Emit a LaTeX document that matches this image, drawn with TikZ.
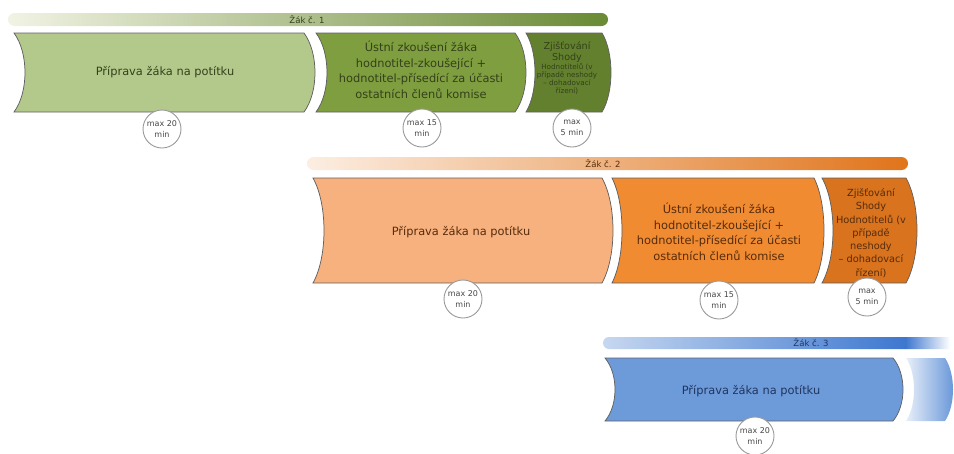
\documentclass[tikz,border=0pt]{standalone}
\usepackage{fontspec}
\setmainfont{DejaVu Sans}

% step tile: straight top and bottom, both sides bowed to the right
% #1 style, #2 left x, #3 right x, #4 top y, #5 bottom y, #6 bulge
\newcommand\tileshape[6]{%
  \path[#1] (#2,#4) -- (#3,#4)
    .. controls ({#3+#6*4/3},{#4+(#5-#4)/4}) and ({#3+#6*4/3},{#5-(#5-#4)/4}) .. (#3,#5)
    -- (#2,#5)
    .. controls ({#2+#6*4/3},{#5-(#5-#4)/4}) and ({#2+#6*4/3},{#4+(#5-#4)/4}) .. (#2,#4) -- cycle;}

\definecolor{gA}{HTML}{B3C98C}
\definecolor{gB}{HTML}{7F9E40}
\definecolor{gC}{HTML}{62802E}
\definecolor{gBar}{HTML}{6A8A34}
\definecolor{gBarL}{HTML}{F1F3E4}
\definecolor{gTxt}{HTML}{34411A}
\definecolor{oA}{HTML}{F7B17E}
\definecolor{oB}{HTML}{F08B32}
\definecolor{oC}{HTML}{D9731E}
\definecolor{oBar}{HTML}{E0741A}
\definecolor{oBarL}{HTML}{FCEEE2}
\definecolor{oTxt}{HTML}{562C0C}
\definecolor{bA}{HTML}{6D9BDA}
\definecolor{bBar}{HTML}{3D77CF}
\definecolor{bBarL}{HTML}{C6D7F0}
\definecolor{bPale}{HTML}{E8EFF9}
\definecolor{bTxt}{HTML}{1F355F}

\begin{document}
\begin{tikzpicture}[x=1pt,y=-1pt,
  tile/.style={draw=black!62, line width=0.75pt},
  main/.style={align=center, font=\fontsize{11.4}{15.5}\selectfont, inner sep=0pt},
  side/.style={align=center, font=\fontsize{9.8}{13.3}\selectfont, inner sep=0pt},
  sidehead/.style={align=center, font=\fontsize{9.6}{10.5}\selectfont, inner sep=0pt},
  sidesmall/.style={align=center, font=\fontsize{7.2}{8.2}\selectfont, inner sep=0pt},
  barlabel/.style={font=\fontsize{8.5}{10}\selectfont, inner sep=0pt},
  timer/.style={circle, draw=black!40, line width=0.9pt, fill=white,
    minimum size=38pt, inner sep=0pt, align=center,
    font=\fontsize{8}{10.5}\selectfont, text=black!72}]
\useasboundingbox (0,0) rectangle (954,453);
\clip (0,0) rectangle (954,453);

% ---------- Žák č. 1 ----------
\shade[rounded corners=6.5pt, left color=gBarL, right color=gBar]
  (8,13) rectangle (608,26);
\node[barlabel, text=gTxt] (bar1) at (307,19.5) {Žák č. 1};

\tileshape{tile, fill=gA}{14}{304}{33}{112}{11}
\tileshape{tile, fill=gB}{316}{515}{33}{112}{11}
\tileshape{tile, fill=gC}{526}{602}{33}{112}{9}

\node[main, text=gTxt] (p1) at (165,72) {Příprava žáka na potítku};
\node[main, text=gTxt] (u1) at (421,70)
  {Ústní zkoušení žáka\\hodnotitel-zkoušející +\\hodnotitel-přísedící za účasti\\ostatních členů komise};
\node[sidehead, text=gTxt] (z1) at (567,52) {Zjišťování\\Shody};
\node[sidesmall, text=gTxt] (h1) at (567,79)
  {Hodnotitelů (v\\případě neshody\\– dohadovací\\řízení)};

\node[timer] (t1a) at (162,129) {max 20\\min};
\node[timer] (t1b) at (422,128) {max 15\\min};
\node[timer] (t1c) at (572,128) {max\\5 min};

% ---------- Žák č. 2 ----------
\shade[rounded corners=6.5pt, left color=oBarL, right color=oBar]
  (307,157) rectangle (908,170);
\node[barlabel, text=oTxt] (bar2) at (603,163.5) {Žák č. 2};

\tileshape{tile, fill=oA}{313}{602}{178}{283}{11}
\tileshape{tile, fill=oB}{612}{814}{178}{283}{10}
\tileshape{tile, fill=oC}{822}{906}{178}{283}{11}

\node[main, text=oTxt] (p2) at (461,232) {Příprava žáka na potítku};
\node[main, text=oTxt] (u2) at (719,232)
  {Ústní zkoušení žáka\\hodnotitel-zkoušející +\\hodnotitel-přísedící za účasti\\ostatních členů komise};
\node[side, text=oTxt] (z2) at (871,233)
  {Zjišťování\\Shody\\Hodnotitelů (v\\případě\\neshody\\– dohadovací\\řízení)};

\node[timer] (t2a) at (463,299) {max 20\\min};
\node[timer] (t2b) at (719,300) {max 15\\min};
\node[timer] (t2c) at (867,297) {max\\5 min};

% ---------- Žák č. 3 ----------
\begin{scope}
  \clip[rounded corners=6pt] (603,337) rectangle (1010,349);
  \shade[left color=bBarL, right color=bBar] (603,337) rectangle (906,349);
  \shade[left color=bBar, right color=white] (905.5,337) rectangle (950,349);
  \fill[white] (949.5,337) rectangle (1010,349);
\end{scope}
\node[barlabel, text=bTxt] (bar3) at (811,343) {Žák č. 3};

\tileshape{tile, fill=bA}{605}{893}{358}{421}{10}
\tileshape{left color=bPale, right color=bA!80!bBar}{906}{945}{358}{421}{8}

\node[main, text=bTxt] (p3) at (751,391) {Příprava žáka na potítku};
\node[timer] (t3a) at (755,436) {max 20\\min};

\end{tikzpicture}
\end{document}
